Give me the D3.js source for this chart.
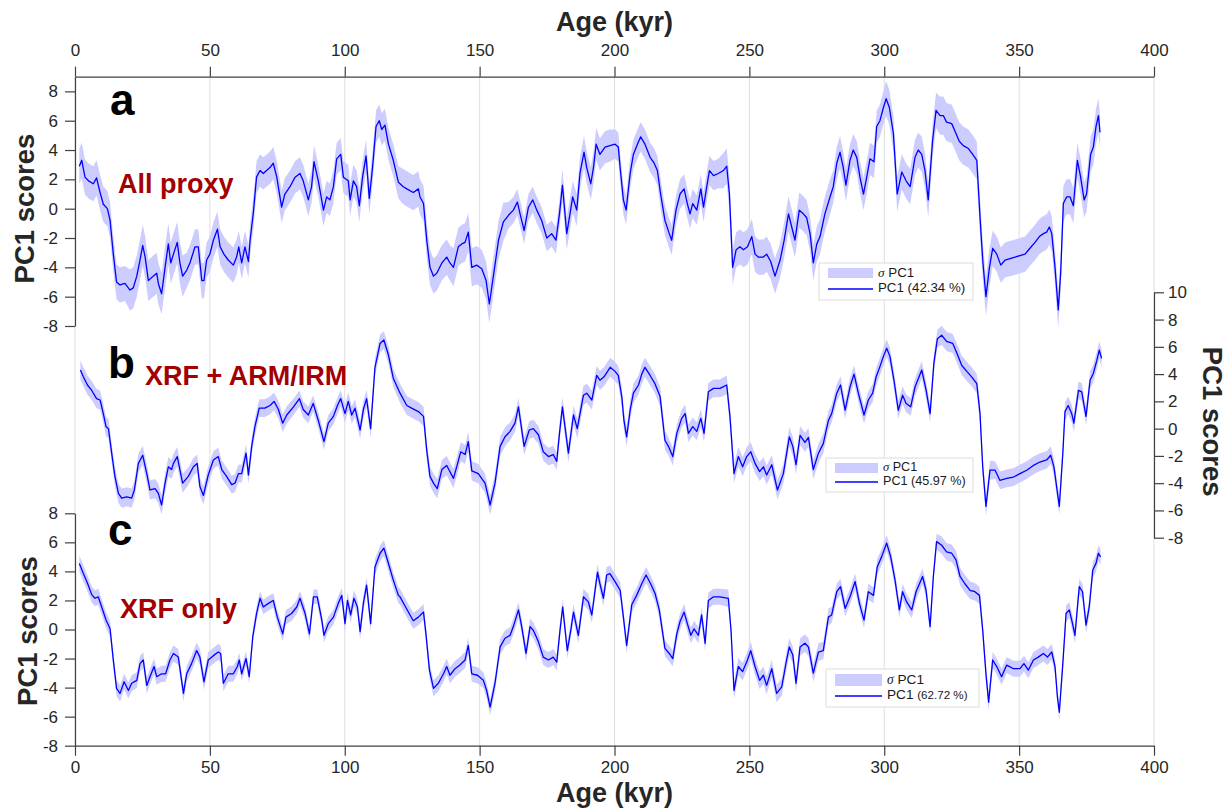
<!DOCTYPE html>
<html>
<head>
<meta charset="utf-8">
<script src="https://cdn.jsdelivr.net/npm/d3@7"></script>
<style>
  body { margin: 0; background: #fff; }
  svg { display: block; }
</style>
</head>
<body>
<svg id="chart" width="1231" height="809"></svg>
<script>
// PC1 score records for three proxy sets
const ageTicks = [0, 50, 100, 150, 200, 250, 300, 350, 400];
const yTicksA = [-8, -6, -4, -2, 0, 2, 4, 6, 8];
const yTicksB = [-8, -6, -4, -2, 0, 2, 4, 6, 8, 10];
const yTicksC = [-8, -6, -4, -2, 0, 2, 4, 6, 8];
const panelLetters = ['a', 'b', 'c'];
const panelNames = ['All proxy', 'XRF + ARM/IRM', 'XRF only'];
const legendPct = ['42.34', '45.97', '62.72'];

// [age kyr, PC1]
const pc1A = [[1.6,2.9],[2.5,3.3],[3.7,2.15],[5,1.9],[6.8,1.7],[8,2.1],[9.3,1.1],[10.5,0.3],[12,0],[13,-0.8],[14.2,-3.1],[15.4,-5.0],[16.7,-5.2],[18.5,-5.1],[20.4,-5.55],[21.6,-5.4],[22.9,-4.6],[24.1,-3.5],[25.1,-2.5],[26,-3.3],[27.2,-4.9],[29,-4.6],[30.3,-4.4],[30.9,-5.1],[32.1,-5.8],[33.4,-4.0],[34.6,-2.4],[35.5,-3.7],[36.5,-3.1],[37.9,-2.3],[38.9,-3.7],[39.9,-4.6],[41.4,-4.2],[42.6,-3.7],[44.5,-2.6],[45.7,-2.6],[47,-4.9],[47.8,-4.9],[48.8,-3.5],[50,-3.1],[51.3,-2.15],[52.8,-1.4],[53.8,-2.6],[55.2,-3.1],[56.8,-3.5],[58.7,-3.85],[59.9,-3.3],[60.7,-2.6],[61.8,-3.7],[63,-2.6],[64.3,-3.6],[64.9,-2.15],[66.1,-0.3],[67.3,2.15],[68.6,2.6],[69.8,2.4],[71,2.6],[72.3,2.8],[73.5,3.1],[74.8,2.15],[76.6,0.1],[77.8,1.0],[79.7,1.5],[81.6,2.15],[83.4,2.4],[84.6,1.9],[86.5,0.6],[87.7,1.5],[88.6,3.2],[90.2,1.9],[92.1,-0.1],[93.3,0.8],[94.5,0.6],[95.8,1.5],[97,3.4],[98.5,3.7],[99.5,2.15],[101.3,1.9],[102,0.6],[103.2,1.9],[104.4,1.5],[105.4,0.2],[106.6,2.15],[107.9,3.6],[109.1,0.7],[110.3,2.8],[111.6,5.6],[112.8,6.0],[113.7,5.4],[114.9,5.7],[116.2,4.4],[118,3.3],[119.9,1.8],[121.7,1.5],[123,1.35],[125.4,1.1],[127.3,1.35],[127.9,0.8],[129.2,0.35],[130.4,-2.15],[131.6,-4.0],[132.9,-4.6],[134.1,-4.4],[136,-3.7],[137.8,-3.3],[139,-3.7],[140.3,-4.0],[142.1,-2.6],[143.4,-2.4],[144.6,-2.3],[145.8,-1.6],[147.1,-4.0],[148.9,-3.85],[150.8,-4.1],[152.4,-4.9],[153.6,-6.5],[155.1,-4.6],[157,-2.15],[158.8,-0.9],[160.7,-0.45],[162.5,-0.1],[164,0.45],[165,-0.35],[166.5,-1.5],[168.1,0.1],[169.7,0.6],[171.2,-0.1],[173,-0.8],[174.9,-2.0],[176.7,-1.7],[178.3,-2.15],[179.6,-0.35],[180.7,1.6],[182.3,-1.7],[183.5,-0.35],[184.5,0.8],[186,-0.1],[187.2,2.4],[188.7,3.85],[189.7,2.8],[191.2,1.7],[192.2,2.8],[193.2,4.4],[194.6,3.7],[196.5,4.2],[198.3,4.3],[200.2,4.4],[201.4,4.2],[202.3,2.4],[203.3,0.6],[204.3,-0.1],[205.8,2.4],[207,3.7],[208.5,4.4],[209.7,4.9],[211.3,4.4],[213.2,3.5],[214.7,3.1],[215.9,2.6],[217.1,1.0],[218.7,-0.8],[220.3,-1.7],[221.2,-2.15],[222.8,-0.1],[224.3,1.0],[225.8,1.35],[227,0.35],[228,-0.35],[229,0.35],[230.5,-0.1],[232,1.35],[233,0.1],[234.2,1.5],[235.2,2.6],[236.7,2.25],[238.5,2.4],[240.4,2.6],[241.6,2.9],[242.6,1.0],[243.8,-4.0],[245.1,-2.8],[246.5,-2.6],[247.8,-2.8],[249.3,-2.6],[250.9,-1.9],[252.1,-3.1],[253.3,-3.3],[255.2,-3.3],[256.4,-3.1],[257.9,-3.6],[259.5,-4.6],[261.4,-3.5],[262.9,-2.15],[264.5,-0.35],[265.7,-1.25],[266.9,-2.15],[268.5,-0.1],[270,-0.35],[271.2,-0.6],[272.5,-1.7],[273.7,-3.7],[275,-2.4],[276.2,-1.9],[278,-0.35],[279.9,0.8],[281.1,1.5],[282.4,3.1],[283.6,3.85],[284.8,2.8],[285.8,1.6],[287.3,3.3],[288.5,4.0],[289.8,3.5],[291,2.15],[292.3,1.0],[293.5,2.15],[294.7,3.4],[296.2,3.2],[297.2,5.6],[298.4,6.0],[299.7,6.9],[300.7,7.5],[301.9,6.9],[303.4,5.1],[304.8,1.0],[306.5,2.5],[308.1,1.9],[309.6,1.5],[311.4,3.5],[312.6,4.0],[313.9,3.7],[315.1,2.6],[316.3,0.6],[317.9,4.6],[319.2,6.7],[320.7,6.35],[321.9,6.35],[323.1,5.9],[325,5.8],[326.2,5.3],[327.8,4.6],[329.3,4.3],[331.2,4.1],[332.8,3.7],[334.3,3.3],[335.5,-0.55],[336.5,-3.5],[337.7,-6.0],[339,-4.0],[340.2,-2.7],[341.7,-3.1],[343.2,-3.85],[344.8,-3.5],[346.6,-3.4],[348.5,-3.3],[350.3,-3.2],[352.2,-3.1],[354,-2.7],[355.9,-2.3],[357.5,-1.9],[359,-1.7],[360.2,-1.6],[361.2,-1.25],[362.1,-1.7],[363.3,-4.0],[364.5,-6.9],[365.4,-4.4],[366.4,0.35],[367.6,0.8],[368.9,0.8],[370.1,0.2],[371.6,3.3],[372.8,2.15],[374.1,0.6],[375,1.0],[376.5,3.7],[377.5,4.2],[378.5,5.6],[379.4,6.35],[380,5.2]];

const pc1B = [[2,4.3],[3.1,3.8],[4.6,3.2],[6.2,2.8],[8,2.2],[9.3,2.1],[10.5,1.1],[11.5,0.15],[12.4,0],[13.6,-1.8],[14.8,-3.5],[16.1,-4.75],[17.3,-5.1],[19.2,-5.0],[21,-5.1],[22,-4.5],[23.5,-2.55],[25.1,-1.95],[26.6,-3.3],[27.8,-4.5],[29.7,-4.4],[30.9,-4.75],[32.1,-5.6],[33.4,-4.0],[34.6,-2.8],[35.8,-3.0],[36.5,-2.55],[37.9,-2.05],[39.9,-4.0],[42,-3.5],[43.9,-2.8],[45.3,-2.55],[46.3,-4.25],[47.6,-4.9],[49.4,-3.4],[51.3,-2.3],[53.1,-2.05],[54.4,-3.0],[56.2,-3.5],[58.1,-4.1],[59.3,-4.0],[60.6,-3.3],[61.8,-3.3],[63.4,-1.8],[64.3,-3.4],[65.5,-1.3],[66.7,0.15],[68.3,1.5],[70.4,1.5],[72.3,1.7],[73.8,2.0],[75.4,1.4],[77,0.4],[78.5,1.0],[81,1.6],[83.2,2.2],[84.6,1.4],[86.5,1.0],[88.3,1.85],[90.2,0.6],[92.3,-0.95],[93.9,0.4],[95.8,0.9],[97.3,1.7],[98.5,2.2],[100.1,1.1],[101.3,2.0],[102.6,1.0],[103.8,1.5],[105.7,-0.1],[106.9,1.4],[108.1,2.2],[109.6,0],[111.2,4.5],[113.1,6.25],[114.5,6.5],[116.2,5.4],[118,3.7],[120.5,2.6],[123,1.7],[124.8,1.5],[127.3,1.25],[129.2,0.9],[130.4,-1.6],[131.6,-3.5],[132.9,-4.0],[134.3,-4.4],[136,-3.0],[137.8,-2.7],[140.3,-3.65],[141.5,-2.8],[143,-1.7],[144.6,-1.9],[145.8,-0.95],[147.1,-3.1],[149.5,-3.3],[152,-4.0],[153.9,-5.6],[155.7,-4.0],[157.6,-1.3],[159.4,-0.6],[161.3,-0.2],[163.1,0.4],[164.4,1.6],[166.5,-1.3],[168.4,-0.1],[169.9,0],[171.8,-0.45],[173.6,-1.7],[175.5,-2.05],[177.3,-1.9],[178.6,-2.4],[179.6,-0.35],[180.7,1.6],[182.9,-1.8],[184.8,1.0],[186.2,0],[188.5,2.45],[189.7,2.6],[191.6,2.1],[193.4,3.9],[194.6,3.55],[196.1,3.8],[198.4,4.5],[200.2,4.2],[201.4,3.9],[202.7,2.35],[203.5,0.6],[204.5,-0.6],[205.8,1.35],[207,2.6],[208.9,3.2],[210.1,4.0],[211.3,4.5],[213.2,3.9],[215,3.3],[216.9,2.35],[218.7,-0.85],[220,-1.3],[221.6,-2.05],[223.1,-0.35],[224.9,0.75],[226.2,1.1],[227.4,-0.35],[229,0.15],[230.5,-0.2],[232,0.75],[233.2,-0.35],[234.8,2.7],[236.7,2.95],[239.1,2.95],[241.6,3.2],[242.8,0.9],[244.3,-3.3],[245.9,-2.05],[247.5,-2.8],[249,-2.05],[250.5,-1.7],[252.1,-2.55],[253.8,-3.15],[255.2,-2.8],[256.4,-3.4],[258.3,-2.65],[260.4,-4.5],[262.6,-3.3],[264.8,-0.6],[266.1,-1.3],[267.3,-2.65],[268.8,-0.5],[270.6,-1.0],[271.9,-0.65],[273.7,-3.0],[275.6,-1.8],[277.4,-1.1],[279.3,0.6],[280.5,1.1],[282.4,2.6],[283.8,3.2],[285.5,1.35],[287.3,3.05],[288.8,4.0],[290.4,2.6],[292.5,1.0],[294.1,2.1],[295.7,2.6],[297,3.8],[298.4,4.55],[299.7,5.3],[300.9,5.9],[302.1,5.3],[303.6,3.55],[305.2,1.35],[306.8,2.45],[308.1,1.85],[309.8,1.6],[311.4,3.05],[313.9,4.3],[315.5,2.85],[317,1.1],[318.4,4.8],[319.7,6.6],[321.3,6.85],[323.1,6.4],[325.4,6.25],[326.8,5.6],[328.7,4.65],[330.6,4.2],[332.4,3.8],[334.3,3.3],[335.5,1.1],[336.5,-2.8],[337.7,-5.7],[339.2,-3.05],[341.1,-3.05],[342.9,-3.8],[345.4,-3.65],[347.9,-3.55],[350.3,-3.3],[352.8,-3.05],[355.3,-2.7],[357.7,-2.45],[360.2,-2.3],[361.7,-1.95],[362.9,-2.8],[363.9,-4.25],[364.9,-5.7],[366.2,-1.8],[367,1.25],[368.2,1.7],[369.5,1.1],[370.3,0.4],[372,2.8],[373.2,2.7],[374.8,0.9],[376.3,3.55],[377.5,4.05],[378.8,5.0],[379.7,5.75],[380.6,5.15]];

const pc1C = [[1.6,4.55],[3.1,3.85],[4.6,3.2],[6.2,2.4],[7.4,2.15],[8.6,2.25],[9.9,1.55],[11.5,0.65],[13,0.05],[14.2,-2.1],[15.4,-4.05],[16.7,-4.4],[18.2,-3.6],[19.8,-4.2],[21,-3.7],[22.9,-3.5],[24.1,-2.35],[25.3,-2.1],[26.6,-3.85],[27.8,-3.25],[29.3,-2.55],[30.3,-3.25],[32.1,-3.05],[33.6,-3.05],[35.2,-2.1],[36.5,-1.65],[38.3,-1.9],[40.2,-4.4],[41.4,-3.05],[43.2,-2.35],[45.1,-1.45],[46.3,-1.9],[47.8,-3.6],[49.4,-2.1],[51.3,-1.8],[53.1,-1.55],[54,-1.65],[55,-3.7],[56.8,-3.05],[58.7,-3.05],[60.2,-2.55],[60.9,-2.1],[61.8,-3.05],[63.4,-2.0],[64.6,-3.25],[65.9,-0.5],[67.3,1.1],[68.6,2.15],[69.8,1.55],[71.7,1.8],[73.5,2.0],[75,0.85],[77,-0.3],[78.2,0.85],[80.3,1.1],[82.2,1.55],[83.4,2.15],[85.3,1.1],[86.9,-0.3],[88.4,2.25],[89.8,2.25],[91.5,0.65],[92.3,-0.4],[93.9,0.4],[95.8,0.85],[97.6,1.8],[98.9,2.35],[100.1,0.4],[101,2.0],[102.2,1.0],[103.4,2.15],[104.7,1.55],[105.7,-0.15],[106.9,1.8],[108.1,3.05],[109.6,0.4],[111.2,4.3],[113.1,5.25],[114.5,5.6],[115.8,4.8],[118,3.4],[119.9,2.35],[120.5,2.25],[122.4,1.6],[125.4,0.6],[127.3,0.85],[129.2,1.2],[130.1,-0.3],[131.4,-2.8],[132.9,-4.05],[134.7,-3.7],[136.6,-3.05],[137.8,-2.55],[139,-3.15],[140.9,-2.7],[142.7,-2.45],[144.6,-2.1],[145.8,-1.1],[147.1,-3.05],[149.2,-3.15],[151.4,-3.5],[152.6,-4.2],[153.9,-5.35],[155.7,-3.7],[157.6,-1.2],[159.4,-0.6],[161.3,-0.4],[162.5,0.2],[164.4,1.35],[165.6,0.2],[167.2,-1.65],[168.7,0.2],[169.9,-0.05],[171.8,-0.85],[173.6,-1.9],[175.5,-2.1],[177.3,-1.9],[178.6,-2.25],[179.8,-0.05],[180.8,1.55],[182.5,-1.45],[183.8,-0.05],[184.8,1.2],[186.6,-0.4],[188.5,2.25],[190.3,1.9],[191.6,1.0],[192.8,2.7],[193.7,3.95],[194.6,3.15],[195.9,2.15],[197.1,3.75],[198.3,3.85],[200.2,3.3],[202.1,2.7],[203.3,0.85],[204.5,-1.1],[206.4,1.7],[208.2,2.35],[210.1,3.15],[211.7,3.75],[213.4,3.15],[215,2.5],[216.6,1.35],[218.7,-1.3],[220.3,-1.65],[221.6,-2.0],[223.1,-0.3],[224.3,0.55],[225.8,1.2],[227,0.4],[228.3,-0.4],[229.5,0.05],[231.1,-0.4],[232.3,1.0],[233.6,-0.95],[234.8,2.0],[236.7,2.25],[239.1,2.25],[242.2,2.15],[243.2,-0.05],[244.3,-4.2],[245.9,-2.55],[247.5,-2.9],[249.3,-2.1],[250.5,-1.45],[252.1,-2.55],[253.8,-3.5],[255.2,-3.15],[256.4,-3.85],[258.3,-2.7],[260.1,-4.4],[262,-3.95],[263.8,-2.1],[264.8,-1.2],[266.1,-1.75],[267.3,-3.7],[268.8,-1.2],[270.6,-0.95],[271.9,-1.2],[273.7,-3.0],[275.6,-1.55],[277.4,-1.45],[279.3,0.85],[280.5,1.0],[282.4,2.6],[283.8,2.95],[285.5,1.45],[287.3,2.25],[289.2,3.3],[290.8,1.8],[292.5,0.65],[294.1,2.6],[296,2.35],[297.4,4.3],[299,5.0],[300.9,5.95],[302.4,5.0],[304,3.4],[305.6,1.35],[306.8,2.6],[308.3,1.9],[310.2,1.35],[311.8,2.6],[314.2,3.65],[315.5,2.7],[317,0.2],[318.2,3.65],[319.4,6.05],[321.3,5.8],[323.1,5.35],[325,5.25],[326.6,4.8],[328.1,3.65],[329.9,3.15],[331.8,2.7],[333.6,2.6],[335.3,2.35],[336.5,-0.05],[337.7,-3.05],[338.7,-5.0],[340.2,-2.1],[341.7,-2.55],[343.5,-3.25],[345.4,-2.45],[347.9,-2.7],[350.3,-2.7],[351.8,-2.35],[353.4,-2.8],[355.3,-2.1],[357.1,-1.9],[359,-1.65],[360.5,-1.9],[362.1,-1.55],[363.3,-2.55],[364.2,-4.65],[364.9,-5.7],[366.2,-2.35],[367.4,1.1],[368.6,1.35],[369.8,0.4],[370.7,-0.4],[372.3,2.95],[373.5,2.6],[374.8,0.3],[376,1.55],[377.3,4.1],[378.5,4.55],[379.4,5.25],[380.2,5.0]];

// sigma half-width, one value per 20-kyr block
const sigmaStep = 20;
const sigmaA = [1.2, 1.4, 1.2, 1.1, 1.1, 1.1, 1.2, 1.3, 0.9, 1.1, 1.0, 1.0, 1.2, 1.2, 1.1, 1.2, 1.3, 1.2, 1.2, 1.1];
const sigmaB = [0.7, 0.7, 0.65, 0.65, 0.6, 0.65, 0.7, 0.7, 0.65, 0.7, 0.7, 0.65, 0.7, 0.7, 0.65, 0.65, 0.7, 0.65, 0.65, 0.65];
const sigmaC = [0.55, 0.55, 0.55, 0.5, 0.5, 0.55, 0.55, 0.55, 0.55, 0.55, 0.55, 0.55, 0.6, 0.6, 0.55, 0.55, 0.6, 0.55, 0.55, 0.55];

const FONT = '"Liberation Sans", Arial, Helvetica, sans-serif';
const AXIS_COLOR = '#404040';
const BAND_COLOR = '#ccccff';
const LINE_COLOR = '#0000ff';
const LABEL_RED = '#a30000';

const svg = d3.select('#chart');
const TOP = 76.7, BOTTOM = 745.7;

const x = d3.scaleLinear().domain([0, 400]).range([75, 1154]);

const panels = [
    {
        data: pc1A, sigma: sigmaA, ticks: yTicksA,
        y: d3.scaleLinear().domain([-8, 9]).range([326, TOP]),
        side: 'left', labelPos: [24, 208.5],
        letterPos: [110, 115], namePos: [118, 193],
        legend: { x: 819, y: 263, w: 154, h: 37, sw: 45, sh: 10, fs: 13.3, dy1: 14, dy2: 29, ly: 26 }
    },
    {
        data: pc1B, sigma: sigmaB, ticks: yTicksB,
        y: d3.scaleLinear().domain([-8, 10]).range([537.7, 292.3]),
        side: 'right', labelPos: [1212, 421.7],
        letterPos: [108, 378], namePos: [145, 385],
        legend: { x: 826, y: 458, w: 147, h: 34, sw: 43, sh: 10, fs: 12.6, dy1: 12.5, dy2: 27, ly: 24 }
    },
    {
        data: pc1C, sigma: sigmaC, ticks: yTicksC,
        y: d3.scaleLinear().domain([-8, 8]).range([BOTTOM, 513.3]),
        side: 'left', labelPos: [27, 631],
        letterPos: [108, 545], namePos: [120, 618],
        legend: { x: 826, y: 669, w: 153, h: 38, sw: 47, sh: 12, fs: 13.6, dy1: 15, dy2: 30, ly: 27, small: true }
    }
];

function sigmaAt(arr, age) {
    return arr[Math.min(arr.length - 1, Math.floor(age / sigmaStep))];
}

function styleAxis(g) {
    g.attr('font-family', FONT).attr('font-size', 17);
    g.select('.domain').attr('stroke', AXIS_COLOR).attr('stroke-width', 1.2);
    g.selectAll('.tick line').attr('stroke', AXIS_COLOR).attr('stroke-width', 1.2);
    g.selectAll('.tick text').attr('fill', '#262626');
}

// Vertical grid lines through all panels
svg.append('g')
    .selectAll('line')
    .data(ageTicks)
    .join('line')
    .attr('x1', d => x(d)).attr('x2', d => x(d))
    .attr('y1', TOP).attr('y2', BOTTOM)
    .attr('stroke', '#dedede')
    .attr('stroke-width', 1);

// Bands and lines
panels.forEach(p => {
    const area = d3.area()
        .x(d => x(d[0]))
        .y0(d => p.y(d[1] - sigmaAt(p.sigma, d[0])))
        .y1(d => p.y(d[1] + sigmaAt(p.sigma, d[0])));

    const line = d3.line()
        .x(d => x(d[0]))
        .y(d => p.y(d[1]));

    svg.append('path')
        .datum(p.data)
        .attr('d', area)
        .attr('fill', BAND_COLOR)
        .attr('stroke', 'none');

    svg.append('path')
        .datum(p.data)
        .attr('d', line)
        .attr('fill', 'none')
        .attr('stroke', LINE_COLOR)
        .attr('stroke-width', 1.3)
        .attr('stroke-linejoin', 'round');
});

// Age axes, top and bottom
svg.append('g')
    .attr('transform', `translate(0,${TOP})`)
    .call(d3.axisTop(x).tickValues(ageTicks).tickSize(10).tickSizeOuter(0).tickPadding(11))
    .call(styleAxis);

svg.append('g')
    .attr('transform', `translate(0,${BOTTOM})`)
    .call(d3.axisBottom(x).tickValues(ageTicks).tickSize(10).tickSizeOuter(0).tickPadding(5))
    .call(styleAxis);

// PC1 axes
panels.forEach(p => {
    const isLeft = p.side === 'left';
    const axis = (isLeft ? d3.axisLeft(p.y) : d3.axisRight(p.y))
        .tickValues(p.ticks)
        .tickFormat(d => String(d))
        .tickSize(10)
        .tickSizeOuter(0)
        .tickPadding(isLeft ? 7 : 4);
    svg.append('g')
        .attr('transform', `translate(${isLeft ? 75 : 1154},0)`)
        .call(axis)
        .call(styleAxis);

    svg.append('text')
        .attr('transform', `translate(${p.labelPos[0]},${p.labelPos[1]}) rotate(${isLeft ? -90 : 90})`)
        .attr('text-anchor', 'middle')
        .attr('dominant-baseline', 'central')
        .attr('font-family', FONT)
        .attr('font-weight', 700)
        .attr('font-size', 27.5)
        .attr('fill', '#262626')
        .text('PC1 scores');
});

// Age axis titles
[[614.5, 22], [614.5, 793]].forEach(([cx, cy]) => {
    svg.append('text')
        .attr('x', cx).attr('y', cy)
        .attr('text-anchor', 'middle')
        .attr('dominant-baseline', 'central')
        .attr('font-family', FONT)
        .attr('font-weight', 700)
        .attr('font-size', 27)
        .attr('fill', '#262626')
        .text('Age (kyr)');
});

// Panel letters and proxy names
panels.forEach((p, i) => {
    svg.append('text')
        .attr('x', p.letterPos[0]).attr('y', p.letterPos[1])
        .attr('font-family', FONT)
        .attr('font-weight', 700)
        .attr('font-size', 44)
        .attr('fill', '#000')
        .text(panelLetters[i]);

    svg.append('text')
        .attr('x', p.namePos[0]).attr('y', p.namePos[1])
        .attr('font-family', FONT)
        .attr('font-weight', 700)
        .attr('font-size', 27)
        .attr('fill', LABEL_RED)
        .text(panelNames[i]);
});

// Legends
panels.forEach((p, i) => {
    const L = p.legend;
    const g = svg.append('g').attr('transform', `translate(${L.x},${L.y})`);
    g.append('rect')
        .attr('width', L.w).attr('height', L.h)
        .attr('fill', '#fff')
        .attr('stroke', '#dcdcdc')
        .attr('stroke-width', 1);
    g.append('rect')
        .attr('x', 9).attr('y', 5)
        .attr('width', L.sw).attr('height', L.sh)
        .attr('fill', BAND_COLOR);
    g.append('line')
        .attr('x1', 9).attr('x2', 9 + L.sw)
        .attr('y1', L.ly).attr('y2', L.ly)
        .attr('stroke', LINE_COLOR)
        .attr('stroke-width', 1.3);

    const tx = 9 + L.sw + 5;
    const t1 = g.append('text')
        .attr('x', tx).attr('y', L.dy1)
        .attr('font-family', FONT)
        .attr('font-size', L.fs)
        .attr('fill', '#1a1a1a');
    t1.append('tspan')
        .attr('font-family', '"Liberation Serif", "DejaVu Serif", serif')
        .attr('font-style', 'italic')
        .text('\u03C3');
    t1.append('tspan').text(' PC1');

    const t2 = g.append('text')
        .attr('x', tx).attr('y', L.dy2)
        .attr('font-family', FONT)
        .attr('font-size', L.fs)
        .attr('fill', '#1a1a1a');
    t2.append('tspan').text('PC1 ');
    t2.append('tspan')
        .attr('font-size', L.small ? L.fs - 2 : L.fs)
        .text(`(${legendPct[i]} %)`);
});
</script>
</body>
</html>
